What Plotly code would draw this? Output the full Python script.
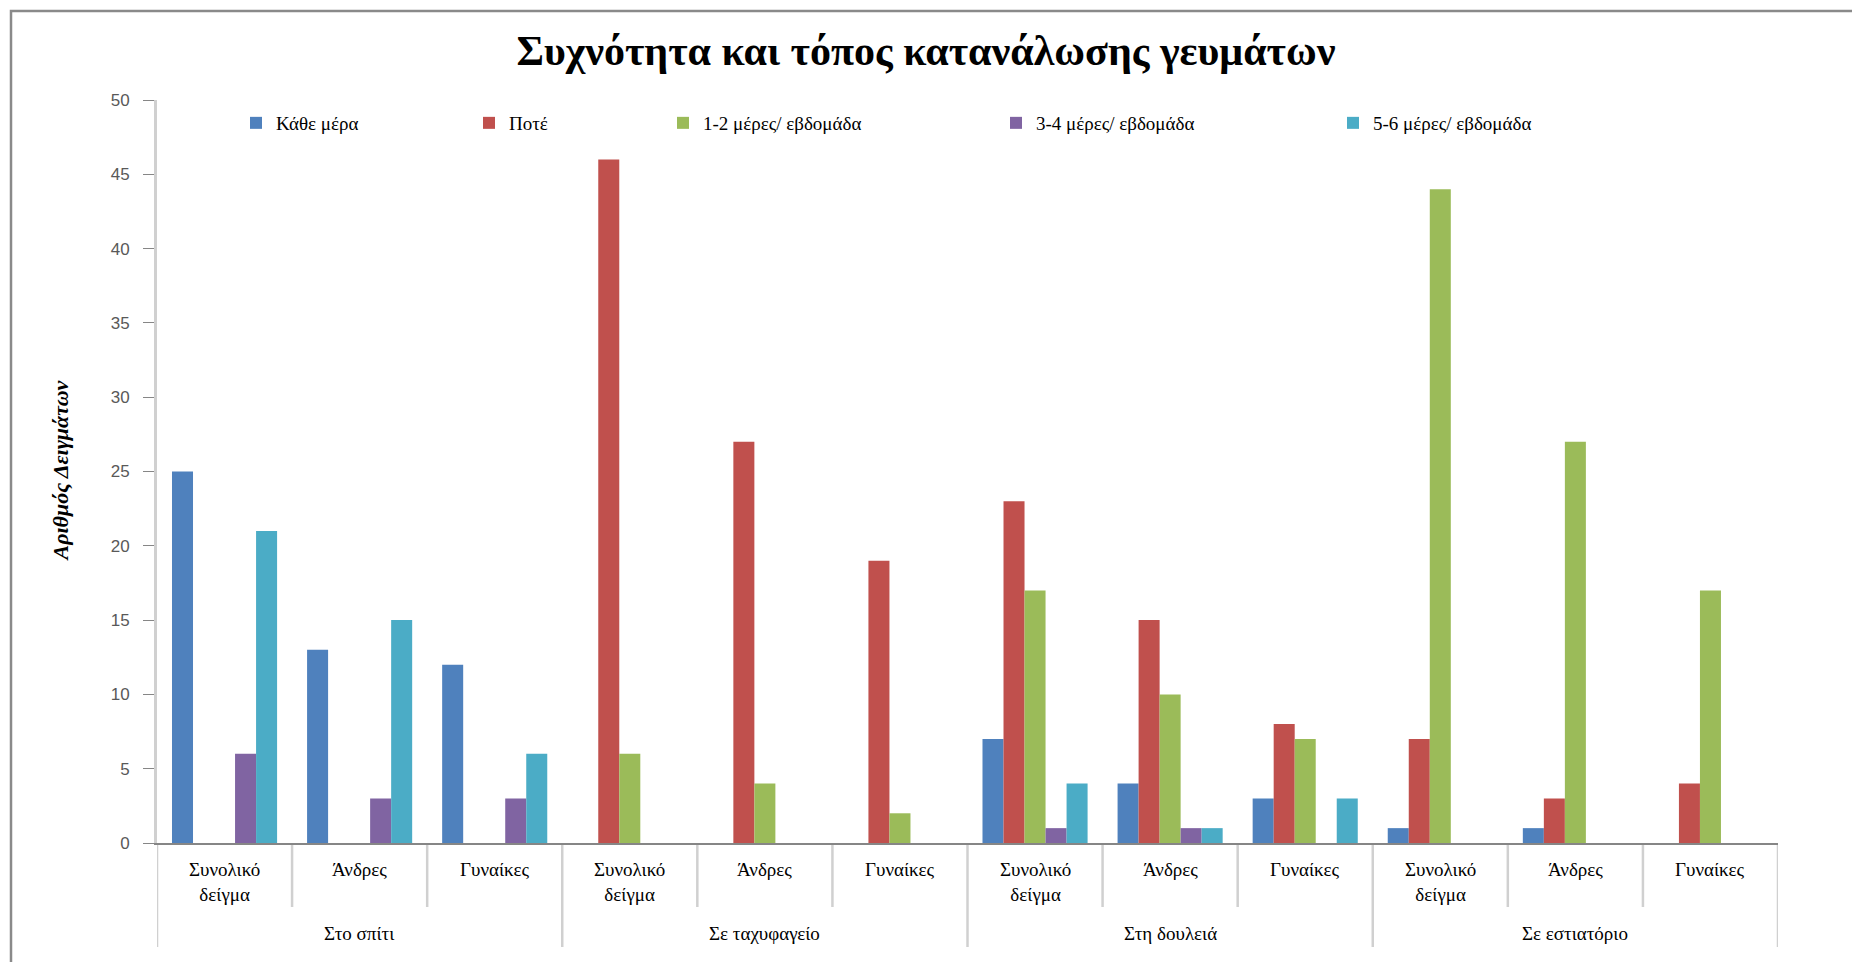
import plotly.graph_objects as go

# Meal frequency by place and sample group
groups = ["Στο σπίτι", "Σε ταχυφαγείο", "Στη δουλειά", "Σε εστιατόριο"]
subgroups = ["Συνολικό<br>δείγμα", "Άνδρες", "Γυναίκες"]

series_names = ["Κάθε μέρα", "Ποτέ", "1-2 μέρες/ εβδομάδα", "3-4 μέρες/ εβδομάδα", "5-6 μέρες/ εβδομάδα"]
every_day = [25, 13, 12, 0, 0, 0, 7, 4, 3, 1, 1, 0]
never = [0, 0, 0, 46, 27, 19, 23, 15, 8, 7, 3, 4]
days_1_2 = [0, 0, 0, 6, 4, 2, 17, 10, 7, 44, 27, 17]
days_3_4 = [6, 3, 3, 0, 0, 0, 1, 1, 0, 0, 0, 0]
days_5_6 = [21, 15, 6, 0, 0, 0, 4, 1, 3, 0, 0, 0]

y_ticks = [0, 5, 10, 15, 20, 25, 30, 35, 40, 45, 50]

colors = ["#4F81BD", "#C0504D", "#9BBB59", "#8064A2", "#4BACC6"]
series_values = [every_day, never, days_1_2, days_3_4, days_5_6]

W, H = 1852, 962
ML, MR, MT, MB = 157, 74, 100, 119
plot_w = W - ML - MR
plot_h = H - MT - MB


def py(pix):
    """Convert a pixel row to paper y."""
    return (H - MB - pix) / plot_h


def px(pix):
    """Convert a pixel column to paper x."""
    return (pix - ML) / plot_w


n_cat = len(groups) * len(subgroups)
x_pos = list(range(n_cat))

serif = "Liberation Serif, Times New Roman, serif"
sans = "Liberation Sans, Arial, sans-serif"

fig = go.Figure()
legend_left = [236, 469, 663, 996, 1333]
for i, (name, vals, col) in enumerate(zip(series_names, series_values, colors)):
    lg = "legend" if i == 0 else f"legend{i + 1}"
    fig.add_trace(go.Bar(
        x=x_pos, y=vals, name=name, marker=dict(color=col, line=dict(width=0)),
        legend=lg, showlegend=True, hoverinfo="y+name",
    ))

legend_common = dict(
    orientation="h", yanchor="middle", y=py(123), xanchor="left",
    font=dict(family=serif, size=19, color="#000000"),
    bgcolor="rgba(0,0,0,0)", borderwidth=0,
)
layout_legends = {}
for i, left in enumerate(legend_left):
    key = "legend" if i == 0 else f"legend{i + 1}"
    layout_legends[key] = dict(legend_common, x=px(left))

label_font = dict(family=serif, size=19, color="#000000")
annotations = []
# sub-category labels and group labels
for g in range(len(groups)):
    for s, lab in enumerate(subgroups):
        annotations.append(dict(
            x=g * len(subgroups) + s, y=py(857), xref="x", yref="paper",
            text=lab, showarrow=False, yanchor="top", xanchor="center",
            font=label_font,
        ))
    annotations.append(dict(
        x=g * len(subgroups) + (len(subgroups) - 1) / 2, y=py(933), xref="x", yref="paper",
        text=groups[g], showarrow=False, yanchor="middle", xanchor="center",
        font=label_font,
    ))
# y-axis title
annotations.append(dict(
    x=px(60), y=0.5, xref="paper", yref="paper", text="<b><i>Αριθμός Δειγμάτων</i></b>",
    textangle=-90, showarrow=False, xanchor="center", yanchor="middle",
    font=dict(family=serif, size=22, color="#000000"),
))

shapes = []
divider = dict(color="#D0D0D0", width=2.5)
for b in range(n_cat + 1):
    xb = b - 0.5
    bottom = py(947) if b % len(subgroups) == 0 else py(907)
    shapes.append(dict(type="line", xref="x", yref="paper", x0=xb, x1=xb,
                       y0=0, y1=bottom, line=divider, layer="below"))
# outer chart frame
shapes.append(dict(type="rect", xref="paper", yref="paper",
                   x0=px(11), x1=px(W + 20), y0=py(11), y1=py(H + 20),
                   line=dict(color="#8A8A8A", width=2.5), layer="below"))

fig.update_layout(
    width=W, height=H,
    margin=dict(l=ML, r=MR, t=MT, b=MB, autoexpand=False),
    paper_bgcolor="white", plot_bgcolor="white",
    showlegend=True,
    title=dict(text="<b>Συχνότητα και τόπος κατανάλωσης γευμάτων</b>",
               x=0.5, xanchor="center", y=1 - 50 / H, yanchor="middle",
               font=dict(family=serif, size=42, color="#000000")),
    barmode="group", bargap=0.222, bargroupgap=0,
    annotations=annotations, shapes=shapes,
    **layout_legends,
)
fig.update_xaxes(range=[-0.5, n_cat - 0.5], showticklabels=False, ticks="",
                 showgrid=False, zeroline=False, showline=True,
                 linecolor="#868686", linewidth=1.5)
fig.update_yaxes(range=[0, 50], tickvals=y_ticks, ticks="outside", ticklen=11,
                 tickcolor="#868686", tickwidth=1, showgrid=False, zeroline=False,
                 showline=True, linecolor="#D0D0D0", linewidth=3,
                 ticklabelstandoff=10,
                 tickfont=dict(family=sans, size=17, color="#595959"))

fig.write_html("out.html")
